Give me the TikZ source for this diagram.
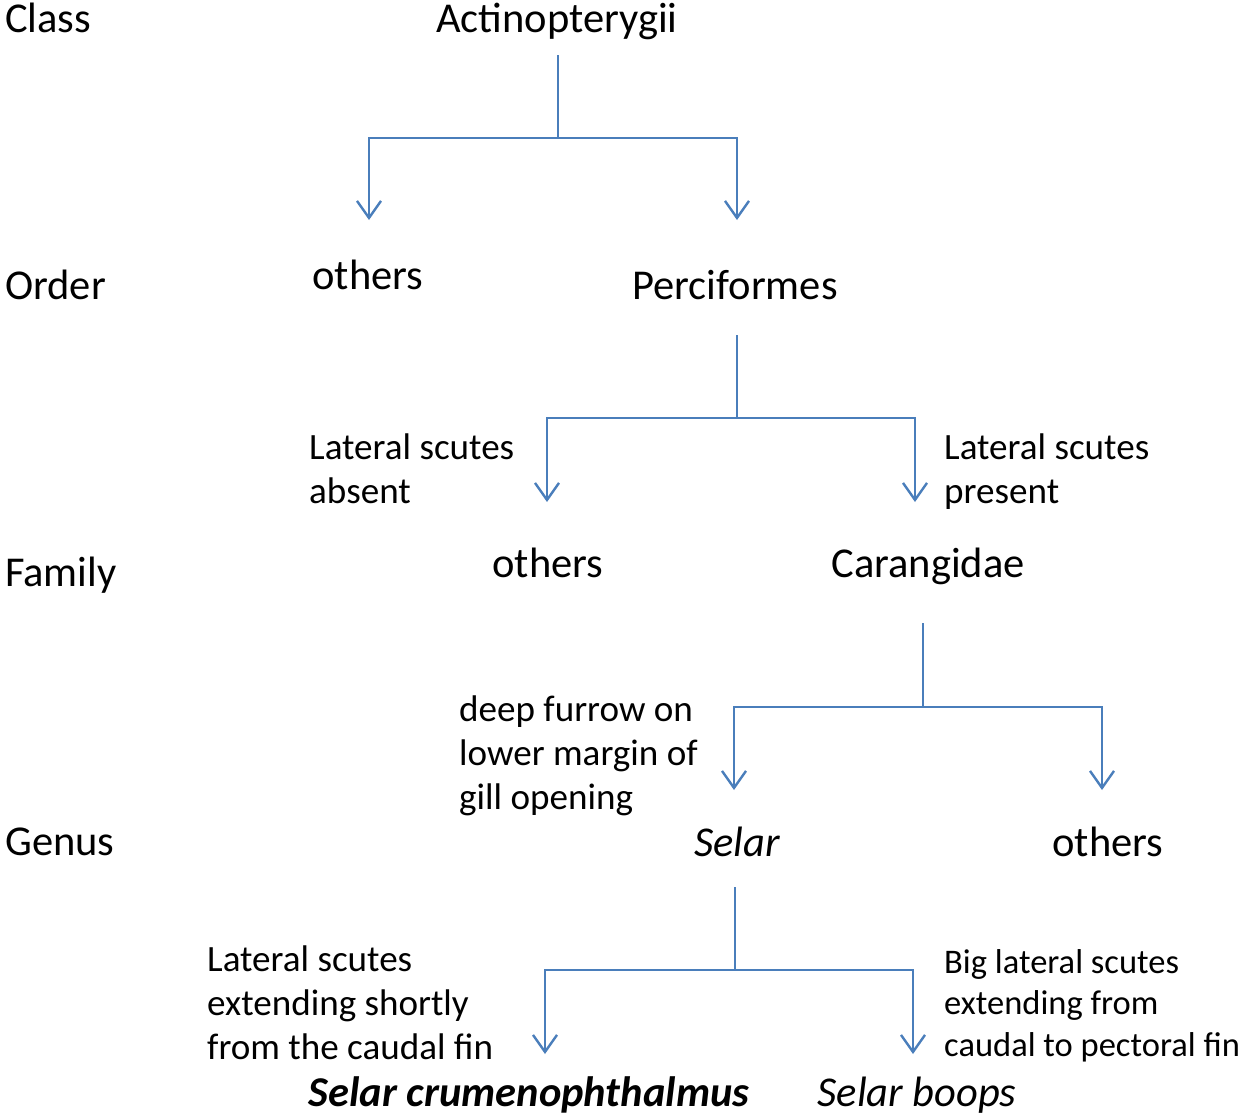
\documentclass[tikz,border=0pt]{standalone}
\usepackage{fontspec}
\setmainfont{Carlito}
\usetikzlibrary{arrows.meta}
\definecolor{lineblue}{HTML}{4A7EBB}
\tikzset{
  big/.style={font=\fontsize{42.5}{51}\selectfont, inner sep=0pt, anchor=base, text height=30pt, text depth=9pt},
  rowlabel/.style={big, anchor=base west},
  note/.style={font=\fontsize{37.1}{44}\selectfont, inner sep=0pt, align=left, anchor=base west},
  noteb/.style={font=\fontsize{34.5}{41.5}\selectfont, inner sep=0pt, align=left, anchor=base west},
  conn/.style={draw=lineblue, line width=2.4pt},
  arr/.style={conn, -{Straight Barb[length=17pt, width=24pt]}},
}
\begin{document}
\begin{tikzpicture}[x=1pt, y=-1pt]
\useasboundingbox[fill=white] (0,0) rectangle (1243,1116);

% row labels
\node[rowlabel] (lclass) at (5,33) {Class};
\node[rowlabel] (lorder) at (5,299) {Order};
\node[rowlabel] (lfamily) at (5,586) {Family};
\node[rowlabel] (lgenus) at (5,855) {Genus};

% taxa
\node[big] (actino) at (557,33) {Actinopterygii};
\node[big] (oth1) at (368,289) {others};
\node[big] (perci) at (735,299) {Perciformes};
\node[big] (oth2) at (548,577) {others};
\node[big] (caran) at (928,577) {Carangidae};
\node[big] (selar) at (737,856) {\itshape Selar};
\node[big] (oth3) at (1108,856) {others};
\node[big] (crumen) at (529,1106) {\bfseries\itshape Selar crumenophthalmus};
\node[big] (boops) at (917,1106) {\itshape Selar boops};

% notes (base anchor = baseline of last line)
\node[note] (n1) at (309,503) {Lateral scutes\\absent};
\node[note] (n2) at (944,503) {Lateral scutes\\present};
\node[note] (n3) at (459,809) {deep furrow on\\lower margin of\\gill opening};
\node[note] (n4) at (207,1059) {Lateral scutes\\extending shortly\\from the caudal fin};
\node[noteb] (n5) at (944,1056) {Big lateral scutes\\extending from\\caudal to pectoral fin};

% junctions and tips
\coordinate (j1) at (558,138);
\coordinate (t1a) at (369,220);
\coordinate (t1b) at (737,220);
\coordinate (j2) at (737,418);
\coordinate (t2a) at (547,502);
\coordinate (t2b) at (915,502);
\coordinate (j3) at (923,707);
\coordinate (t3a) at (734,790);
\coordinate (t3b) at (1102,790);
\coordinate (j4) at (735,970);
\coordinate (t4a) at (545,1054);
\coordinate (t4b) at (913,1054);

% connectors
\draw[conn] ([yshift=-13pt]actino.south -| j1) -- (j1);
\draw[arr] (j1) -| (t1a);
\draw[arr] (j1) -| (t1b);

\draw[conn] ([yshift=-27pt]perci.south -| j2) -- (j2);
\draw[arr] (j2) -| (t2a);
\draw[arr] (j2) -| (t2b);

\draw[conn] ([yshift=-37pt]caran.south -| j3) -- (j3);
\draw[arr] (j3) -| (t3a);
\draw[arr] (j3) -| (t3b);

\draw[conn] ([yshift=-22pt]selar.south -| j4) -- (j4);
\draw[arr] (j4) -| (t4a);
\draw[arr] (j4) -| (t4b);
\end{tikzpicture}
\end{document}
